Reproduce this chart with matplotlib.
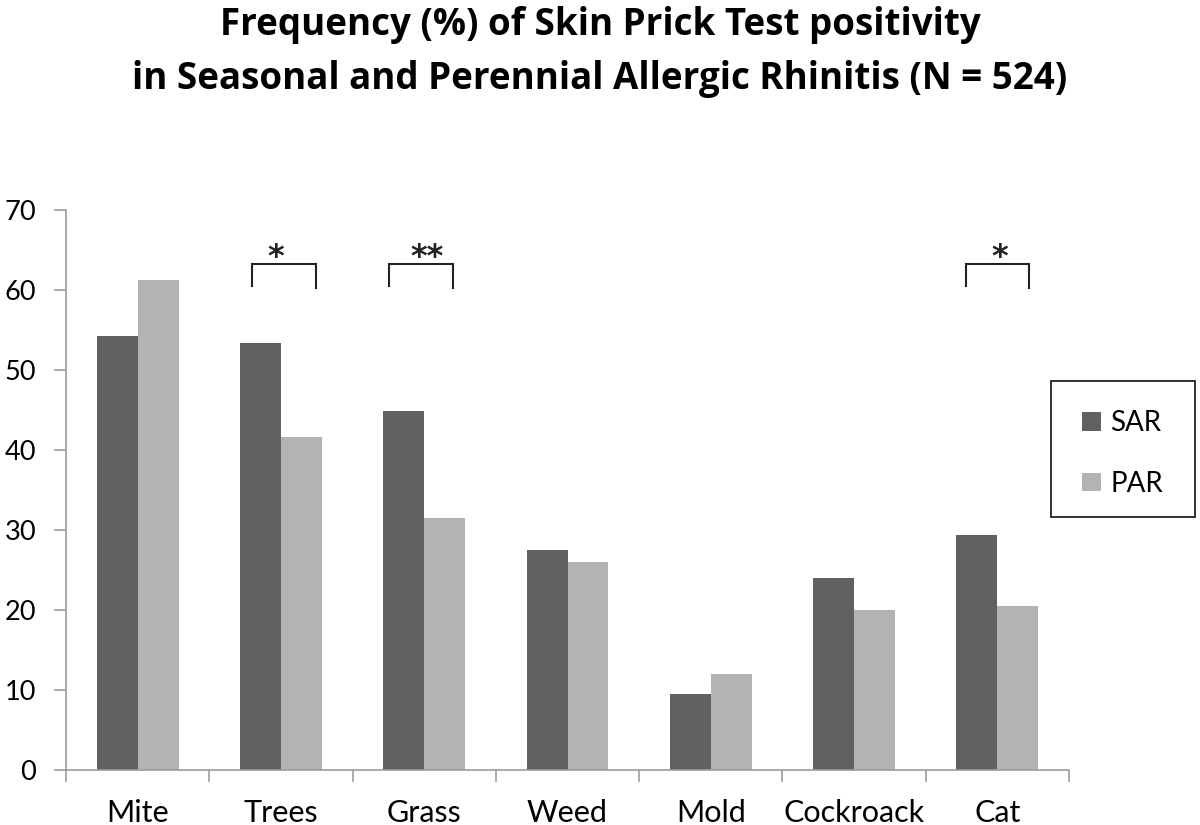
import matplotlib
matplotlib.use("Agg")
import matplotlib.pyplot as plt
from matplotlib.patches import Rectangle
import numpy as np

# ---- data ----
categories = ["Mite", "Trees", "Grass", "Weed", "Mold", "Cockroack", "Cat"]
sar_values = [54.2, 53.3, 44.8, 27.4, 9.5, 23.9, 29.4]
par_values = [61.3, 41.6, 31.5, 25.9, 11.9, 20.0, 20.5]
series_names = ["SAR", "PAR"]
yticks = [0, 10, 20, 30, 40, 50, 60, 70]
title_lines = ["Frequency (%) of Skin Prick Test positivity",
               "in Seasonal and Perennial Allergic Rhinitis (N = 524)"]
sig_categories = ["Trees", "Grass", "Cat"]
sig_labels = ["*", "**", "*"]

# ---- style ----
SAR_COLOR = "#616161"
PAR_COLOR = "#b3b3b3"
AXIS_COLOR = "#9c9c9c"
FONT = "Lato"
W, H = 1200, 825

fig = plt.figure(figsize=(12, 8.25), dpi=100)
ax = fig.add_axes([66/W, 1-769.5/H, (1069-66)/W, (769.5-210)/H])

x = np.arange(len(categories))
w = 0.2857
ax.bar(x - w/2, sar_values, width=w, color=SAR_COLOR, label=series_names[0], linewidth=0)
ax.bar(x + w/2, par_values, width=w, color=PAR_COLOR, label=series_names[1], linewidth=0)

ax.set_xlim(-0.5, len(categories) - 0.5)
ax.set_ylim(0, 70)
ax.set_yticks(yticks)
ax.set_yticklabels([str(v) for v in yticks], fontsize=19.5, family=FONT)

# category labels at centers, tick marks at boundaries
ax.set_xticks(x)
ax.set_xticklabels(categories, fontsize=22, family=FONT)
ax.tick_params(axis="x", which="major", length=0, pad=21)
ax.set_xticks(np.arange(len(categories) + 1) - 0.5, minor=True)
ax.tick_params(axis="x", which="minor", length=8.6, width=1.2, color=AXIS_COLOR, direction="out")
ax.tick_params(axis="y", length=8.6, width=1.2, color=AXIS_COLOR, pad=13)

for s in ["top", "right"]:
    ax.spines[s].set_visible(False)
for s in ["left", "bottom"]:
    ax.spines[s].set_color(AXIS_COLOR)
    ax.spines[s].set_linewidth(1.2)

# significance brackets
bracket_offsets = {"Trees": (-0.20, 0.245, -0.037),
                   "Grass": (-0.244, 0.201, 0.023),
                   "Cat": (-0.222, 0.22, 0.014)}
for cat, lab in zip(sig_categories, sig_labels):
    i = categories.index(cat)
    l, r, s = bracket_offsets[cat]
    ax.plot([i + l, i + l, i + r, i + r], [60.5, 63.25, 63.25, 60.3],
            color="#222222", linewidth=1.5, solid_joinstyle="miter", clip_on=False)
    ax.text(i + s, 64.0, lab, ha="center", va="center", fontsize=23,
            family="DejaVu Sans", fontweight="bold", color="#222222")

# legend (entries by matplotlib, frame drawn as a figure rectangle)
leg = ax.legend(loc="upper left", bbox_to_anchor=(1082/W, 1-410/H),
                bbox_transform=fig.transFigure, prop={"family": FONT, "size": 20},
                frameon=False, handlelength=0.68, handleheight=0.66,
                handletextpad=0.33, labelspacing=1.25, borderpad=0, borderaxespad=0)
fig.patches.append(Rectangle((1051/W, 1-516.7/H), (1195-1051)/W, (516.7-380.7)/H,
                             transform=fig.transFigure, fill=False,
                             edgecolor="#222222", linewidth=1.3))

# title
fig.text(0.5, 1-35/H, title_lines[0], ha="center", va="baseline",
         fontsize=26.5, fontweight="bold", family="Open Sans")
fig.text(0.5, 1-89/H, title_lines[1], ha="center", va="baseline",
         fontsize=26.5, fontweight="bold", family="Open Sans")

fig.savefig("out.png", dpi=100)
